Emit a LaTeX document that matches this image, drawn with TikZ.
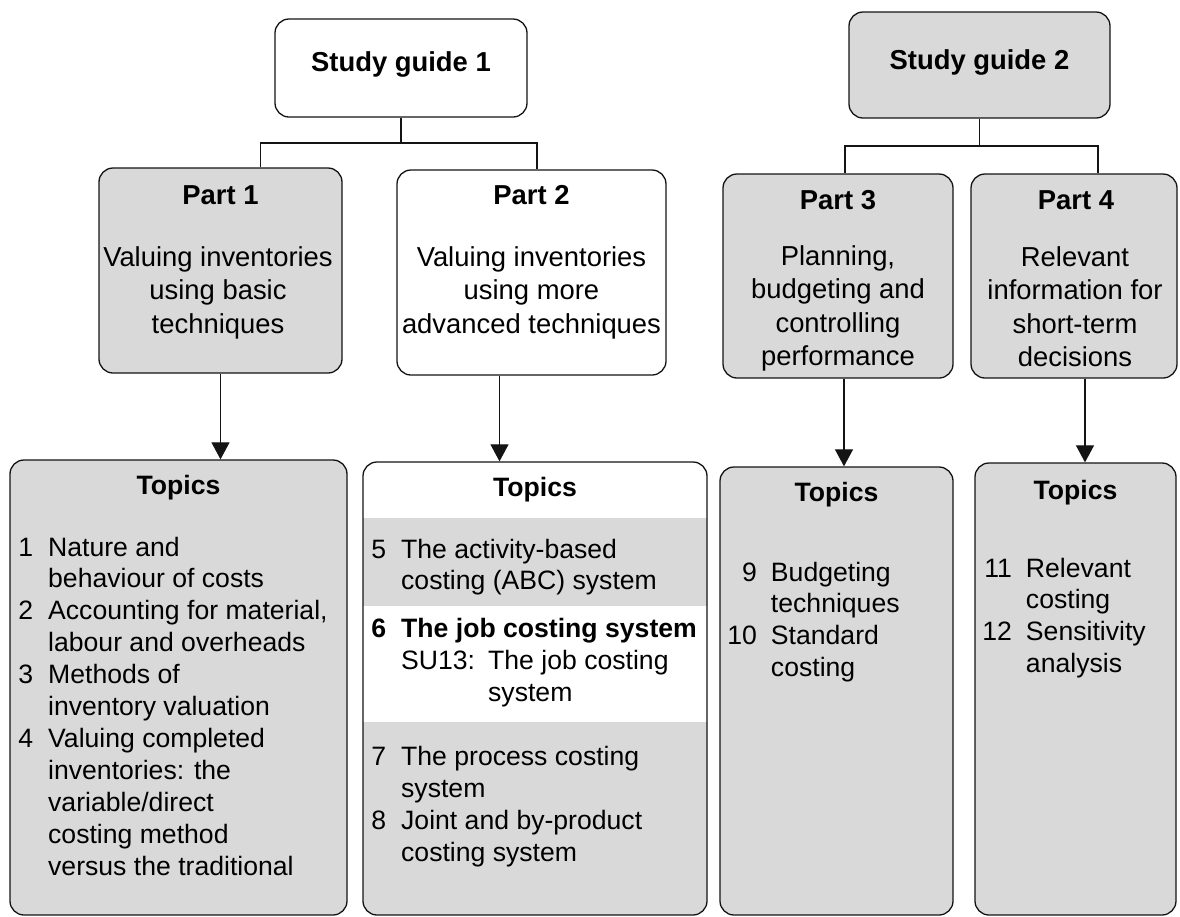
\documentclass[tikz,border=0pt]{standalone}
\usepackage{fontspec}
\setmainfont{Liberation Sans}
\usetikzlibrary{arrows.meta,calc}
\definecolor{sgedge}{RGB}{20,20,20}
\definecolor{sggrey}{RGB}{217,217,217}
\newcommand{\partfont}{\fontsize{13.7}{16.75}\selectfont}
\newcommand{\topfont}{\fontsize{13.3}{15.95}\selectfont}
\tikzset{
  sgbox/.style={draw=sgedge, line width=0.65pt, rounded corners=7pt, inner sep=0pt},
  greybox/.style={sgbox, fill=sggrey},
  whitebox/.style={sgbox, fill=white},
  ttl/.style={inner sep=0pt, anchor=base, font=\partfont\bfseries},
  hdr/.style={inner sep=0pt, anchor=base, font=\topfont\bfseries},
  bodytxt/.style={inner sep=0pt, anchor=base, font=\partfont},
  topiclist/.style={inner sep=0pt, anchor=base west, font=\topfont},
  link/.style={draw=sgedge, line width=0.6pt},
  arr/.style={link, -{Triangle[length=8.5pt,width=9pt]}}
}

\begin{document}
\begin{tikzpicture}[x=0.5pt,y=-0.5pt]
  \useasboundingbox (0,0) rectangle (1180,917);

  % study guides
  \node[whitebox, minimum width=126pt, minimum height=49pt] (sg1) at (401,68) {};
  \node[greybox, minimum width=130.5pt, minimum height=53pt] (sg2) at (979.5,65) {};
  \node[ttl] (sg1t) at (401,71) {Study guide 1};
  \node[ttl] (sg2t) at (979.5,69) {Study guide 2};

  % parts
  \node[greybox, minimum width=121.5pt, minimum height=102.5pt] (p1) at (220.5,270.5) {};
  \node[whitebox, minimum width=134.5pt, minimum height=102.5pt] (p2) at (531.5,272.5) {};
  \node[greybox, minimum width=115pt, minimum height=102pt] (p3) at (838,276) {};
  \node[greybox, minimum width=103pt, minimum height=102pt] (p4) at (1074,276) {};

  \node[ttl] (p1t) at (220.5,204) {Part 1};
  \node[ttl] (p2t) at (531.5,204) {Part 2};
  \node[ttl] (p3t) at (838,209) {Part 3};
  \node[ttl] (p4t) at (1076,209) {Part 4};

  \node[bodytxt] (p1b) at (218,266)
    {\begin{tabular}[t]{@{}c@{}}Valuing inventories\\using basic\\techniques\end{tabular}};
  \node[bodytxt] (p2b) at (531.5,266)
    {\begin{tabular}[t]{@{}c@{}}Valuing inventories\\using more\\advanced techniques\end{tabular}};
  \node[bodytxt] (p3b) at (838,265)
    {\begin{tabular}[t]{@{}c@{}}Planning,\\budgeting and\\controlling\\performance\end{tabular}};
  \node[bodytxt] (p4b) at (1075,266)
    {\begin{tabular}[t]{@{}c@{}}Relevant\\information for\\short-term\\decisions\end{tabular}};

  % topics
  \node[greybox, minimum width=168.5pt, minimum height=227.5pt] (t1) at (178.5,687.5) {};
  \node[whitebox, minimum width=172pt, minimum height=226.5pt,
    path picture={
      \fill[sggrey, sharp corners] ($(path picture bounding box.north west)+(-5,56)$)
        rectangle ($(path picture bounding box.north east)+(5,144)$);
      \fill[sggrey, sharp corners] ($(path picture bounding box.north west)+(-5,260)$)
        rectangle ($(path picture bounding box.south east)+(5,5)$);
    }] (t2) at (535,688.5) {};
  \node[greybox, minimum width=116.5pt, minimum height=224pt] (t3) at (836.5,691) {};
  \node[greybox, minimum width=100.5pt, minimum height=226pt] (t4) at (1075.5,689) {};

  \node[hdr] (t1h) at (178.5,494) {Topics};
  \node[hdr] (t2h) at (535,496) {Topics};
  \node[hdr] (t3h) at (836.5,501) {Topics};
  \node[hdr] (t4h) at (1075.5,499) {Topics};

  \node[topiclist] (t1l) at (18,556) {\begin{tabular}[t]{@{}r@{\hspace{7.5pt}}l@{}}
    1 & Nature and\\
      & behaviour of costs\\
    2 & Accounting for material,\\
      & labour and overheads\\
    3 & Methods of\\
      & inventory valuation\\
    4 & Valuing completed\\
      & inventories: the\\
      & variable/direct\\
      & costing method\\
      & versus the traditional
  \end{tabular}};
  \node[topiclist] (t2l) at (371,558) {\begin{tabular}[t]{@{}r@{\hspace{7.5pt}}l@{}}
    5 & The activity-based\\
      & costing (ABC) system\\[8pt]
    \textbf{6} & \textbf{The job costing system}\\
      & \makebox[43.5pt][l]{SU13:}The job costing\\
      & \hspace{43.5pt}system\\[16pt]
    7 & The process costing\\
      & system\\
    8 & Joint and by-product\\
      & costing system
  \end{tabular}};
  \node[topiclist] (t3l) at (727,581) {\begin{tabular}[t]{@{}r@{\hspace{7pt}}l@{}}
    9 & Budgeting\\
      & techniques\\
   10 & Standard\\
      & costing
  \end{tabular}};
  \node[topiclist] (t4l) at (982,577) {\begin{tabular}[t]{@{}r@{\hspace{7pt}}l@{}}
   11 & Relevant\\
      & costing\\
   12 & Sensitivity\\
      & analysis
  \end{tabular}};

  % tree links
  \coordinate (j1) at (401,143);
  \coordinate (j2) at (979.5,146);
  \draw[link] (sg1.south) -- (j1);
  \draw[link] ([xshift=20pt]p1.north) |- (j1) -| ([xshift=2.75pt]p2.north);
  \draw[link] (sg2.south) -- (j2);
  \draw[link] ([xshift=3.5pt]p3.north) |- (j2) -| ([xshift=12pt]p4.north);

  % arrows down to the topics
  \draw[arr] (p1.south) -- (p1.south |- t1.north);
  \draw[arr] ([xshift=-16pt]p2.south) -- ([xshift=-16pt]p2.south |- t2.north);
  \draw[arr] ([xshift=3pt]p3.south) -- ([xshift=3pt]p3.south |- t3.north);
  \draw[arr] ([xshift=5.5pt]p4.south) -- ([xshift=5.5pt]p4.south |- t4.north);
\end{tikzpicture}
\end{document}
